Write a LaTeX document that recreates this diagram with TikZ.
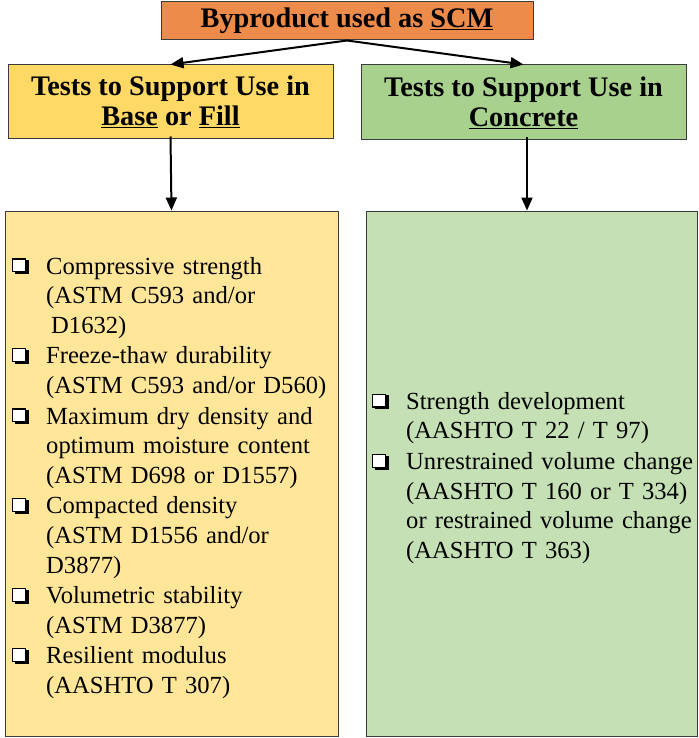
\documentclass[tikz,border=0pt]{standalone}
\usepackage{fontspec}
\setmainfont{Liberation Serif}
\usetikzlibrary{arrows.meta}

\definecolor{toporange}{HTML}{ED8B4B}
\definecolor{hdryellow}{HTML}{FFD966}
\definecolor{hdrgreen}{HTML}{A9D18E}
\definecolor{bodyyellow}{HTML}{FFE699}
\definecolor{bodygreen}{HTML}{C5E0B4}
\definecolor{edge}{HTML}{3A3A3A}

% shadowed check box used as the list marker
\newcommand{\cbx}{\makebox[34pt][l]{\rlap{\hspace{3pt}\rule{14pt}{14pt}}\raisebox{3pt}{\fboxsep=0pt\fboxrule=1.2pt\fcolorbox{black}{white}{\rule{0pt}{11.6pt}\rule{11.6pt}{0pt}}}}}
% one list entry: marker, then its lines stacked under each other
\newcommand{\listitem}[1]{\par\noindent\cbx\begin{tabular}[t]{@{}l@{}}#1\end{tabular}}

\begin{document}
\begin{tikzpicture}[x=1pt,y=-1pt,
  box/.style={draw=edge,line width=1pt,inner sep=0pt,anchor=center},
  titlefont/.style={font=\fontsize{28.3}{30}\selectfont\bfseries,align=center},
  arr/.style={line width=2pt,-{Triangle[length=13pt,width=11pt]}},
  listtext/.style={anchor=west,inner sep=0pt,text width=330pt,align=left,
    font=\fontsize{24.6}{29.6}\selectfont}]

\useasboundingbox (0,0) rectangle (698,738);

% header boxes
\node[box,fill=toporange,minimum width=372pt,minimum height=38pt,titlefont]
  (top) at (347,21) {Byproduct used as \underline{SCM}};
\node[box,fill=hdryellow,minimum width=325pt,minimum height=74pt,titlefont]
  (lh) at (170.5,102) {Tests to Support Use in\\\underline{Base} or \underline{Fill}};
\node[box,fill=hdrgreen,minimum width=325pt,minimum height=75pt,titlefont]
  (rh) at (523.5,102.5) {Tests to Support Use in\\\underline{Concrete}};

% list boxes
\node[box,fill=bodyyellow,minimum width=333pt,minimum height=525pt]
  (lb) at (171.5,473.5) {};
\node[box,fill=bodygreen,minimum width=331.5pt,minimum height=525pt]
  (rb) at (531.75,473.5) {};

\node[listtext] (lbt) at (12,473.5) {%
  \listitem{Compressive strength\\(ASTM C593 and/or\\\hspace*{5pt}D1632)}
  \listitem{Freeze-thaw durability\\(ASTM C593 and/or D560)}
  \listitem{Maximum dry density and\\optimum moisture content\\(ASTM D698 or D1557)}
  \listitem{Compacted density\\(ASTM D1556 and/or\\D3877)}
  \listitem{Volumetric stability\\(ASTM D3877)}
  \listitem{Resilient modulus\\(AASHTO T 307)}};

\node[listtext] (rbt) at (372,473.5) {%
  \listitem{Strength development\\(AASHTO T 22 / T 97)}
  \listitem{Unrestrained volume change\\(AASHTO T 160 or T 334)\\or restrained volume change\\(AASHTO T 363)}};

% connectors
\coordinate (rdrop) at (527,0);
\draw[arr] (top.south) -- (lh.north);
\draw[arr] (top.south) -- (rh.north);
\draw[arr] ([yshift=3pt]lh.south) -- (lb.north);
\draw[arr] ([yshift=3pt]rh.south -| rdrop) -- (rb.north -| rdrop);

\end{tikzpicture}
\end{document}
